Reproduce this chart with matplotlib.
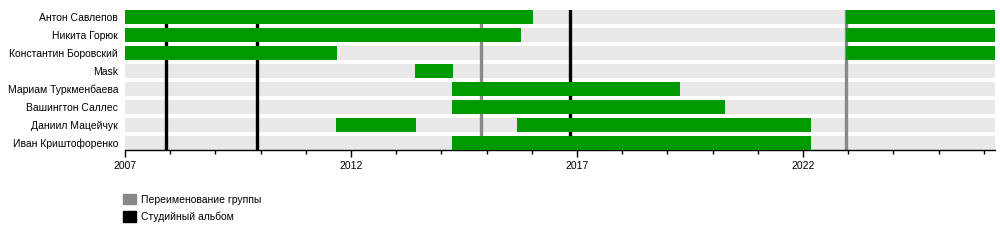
import matplotlib.pyplot as plt
from matplotlib.patches import Patch

plt.rcParams['font.family'] = ['Liberation Sans', 'DejaVu Sans']

# members, top to bottom
members = ['Антон Савлепов', 'Никита Горюк', 'Константин Боровский', 'Mask',
           'Мариам Туркменбаева', 'Вашингтон Саллес', 'Даниил Мацейчук',
           'Иван Криштофоренко']

# active periods (start, end) in decimal years
periods = [
    [(2007.0, 2016.03), (2022.96, 2026.25)],
    [(2007.0, 2015.76), (2022.96, 2026.25)],
    [(2007.0, 2011.69), (2022.96, 2026.25)],
    [(2013.42, 2014.26)],
    [(2014.23, 2019.28)],
    [(2014.23, 2020.27)],
    [(2011.67, 2013.44), (2015.67, 2022.18)],
    [(2014.23, 2022.18)],
]

renames = [2014.88, 2022.96]
albums = [2007.9, 2009.91, 2016.85]

x_start, x_end = 2007.0, 2026.25
major_years = [2007, 2012, 2017, 2022]
minor_years = list(range(2007, 2027))

green = '#009900'
band = '#e8e8e8'
grey_line = '#888888'

fig = plt.figure(figsize=(10, 2.5), dpi=100)
ax = fig.add_axes([0.125, 0.4, 0.87, 0.56])

h = 14 / 18
for i, name in enumerate(members):
    ax.barh(i, x_end - x_start, left=x_start, height=h, color=band, zorder=1)
    for s, e in periods[i]:
        ax.barh(i, e - s, left=s, height=h, color=green, zorder=3)

for x in renames:
    ax.axvline(x, color=grey_line, lw=2.4, zorder=2)
for x in albums:
    ax.axvline(x, color='black', lw=2.4, zorder=2)

ax.set_xlim(x_start, x_end)
ax.set_ylim(len(members) - 1 + h / 2, -h / 2)
ax.set_yticks(range(len(members)))
ax.set_yticklabels(members, fontsize=7.5)
ax.tick_params(axis='y', length=0, pad=5)

ax.set_xticks(major_years)
ax.set_xticklabels([str(y) for y in major_years], fontsize=7.5)
ax.set_xticks(minor_years, minor=True)
ax.tick_params(axis='x', which='major', length=5, width=1, pad=3)
ax.tick_params(axis='x', which='minor', length=3, width=1)

for side in ['top', 'right', 'left']:
    ax.spines[side].set_visible(False)
ax.spines['bottom'].set_linewidth(1)

handles = [Patch(color='#888888', label='Переименование группы'),
           Patch(color='black', label='Студийный альбом')]
fig.legend(handles=handles, loc='upper left', bbox_to_anchor=(0.123, 0.225),
           frameon=False, fontsize=7.5, handlelength=1.25, handleheight=1.2,
           labelspacing=0.6, handletextpad=0.5, borderaxespad=0, borderpad=0)

fig.savefig('out.png', dpi=100)
